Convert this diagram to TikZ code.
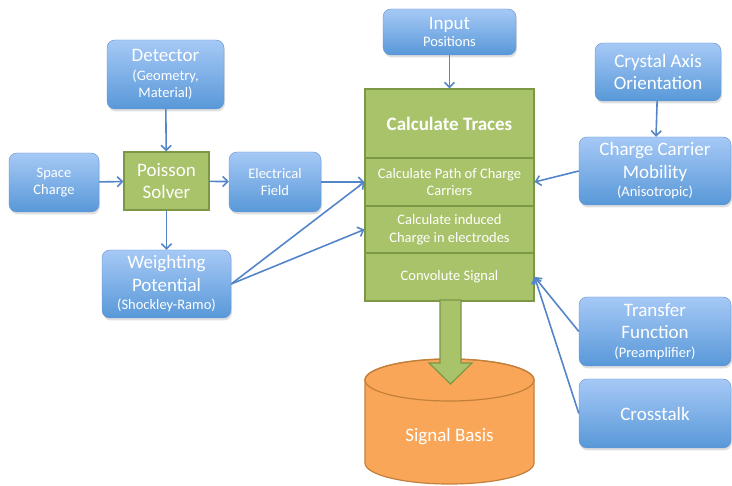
\documentclass[tikz,border=0pt]{standalone}
\usepackage{fontspec}
\setmainfont{Carlito}
\usetikzlibrary{arrows.meta, shadows}
\definecolor{bxtop}{RGB}{166, 201, 246}
\definecolor{bxbot}{RGB}{88, 152, 216}
\definecolor{bxline}{RGB}{98, 145, 210}
\definecolor{arline}{RGB}{84, 133, 200}
\definecolor{grfill}{RGB}{169, 195, 107}
\definecolor{grline}{RGB}{124, 151, 70}
\definecolor{orfill}{RGB}{249, 166, 88}
\definecolor{orline}{RGB}{196, 128, 58}
\newcommand{\bigf}{\fontsize{19}{22}\selectfont}
\newcommand{\smallf}{\fontsize{14.5}{17.5}\selectfont}

\tikzset{
  bluebox/.style={draw=bxline, rounded corners=8pt, top color=bxtop, bottom color=bxbot,
    text=white, align=center, inner sep=2pt, font=\smallf,
    drop shadow={opacity=0.25, shadow xshift=1pt, shadow yshift=-2.5pt}},
  greenbox/.style={draw=grline, line width=1.2pt, fill=grfill, text=white, align=center,
    inner sep=2pt, font=\smallf},
  flow/.style={arline, line width=1.6pt, -{Straight Barb[length=5pt, width=10pt]}}
}

\begin{document}
\begin{tikzpicture}[x=1pt, y=1pt]
  \useasboundingbox (0,0) rectangle (732,-486);

  % Inputs on the left
  \node[bluebox, minimum width=117pt, minimum height=69pt] (det) at (165.5,-74.5)
    {{\bigf Detector}\\[1pt](Geometry,\\Material)};
  \node[bluebox, minimum width=90pt, minimum height=59pt] (spc) at (54,-182.5)
    {Space\\Charge};
  \node[greenbox, minimum width=85pt, minimum height=58pt, font=\bigf] (poi) at (166.5,-181)
    {Poisson\\Solver};
  \node[bluebox, minimum width=92pt, minimum height=60pt] (efd) at (275,-182)
    {Electrical\\Field};
  \node[bluebox, minimum width=129pt, minimum height=68pt] (wgt) at (166.5,-284)
    {{\bigf Weighting}\\[5pt]{\bigf Potential}\\[1pt](Shockley-Ramo)};

  % Calculate traces block
  \node[bluebox, minimum width=133pt, minimum height=46pt] (inp) at (449.5,-32)
    {{\bigf Input}\\Positions};
  \node[greenbox, minimum width=169pt, minimum height=69pt, font=\bigf\bfseries] (ttl) at (449.5,-123.5)
    {Calculate Traces};
  \node[greenbox, minimum width=169pt, minimum height=48pt] (pth) at (449.5,-182)
    {Calculate Path of Charge\\Carriers};
  \node[greenbox, minimum width=169pt, minimum height=47pt] (ind) at (449.5,-229.5)
    {Calculate induced\\Charge in electrodes};
  \node[greenbox, minimum width=169pt, minimum height=48pt] (cnv) at (449.5,-277)
    {Convolute Signal};

  % Inputs on the right
  \node[bluebox, minimum width=126pt, minimum height=58pt, font=\bigf] (cax) at (658,-72)
    {Crystal Axis\\Orientation};
  \node[bluebox, minimum width=152pt, minimum height=68pt] (ccm) at (655,-171)
    {{\bigf Charge Carrier}\\[5pt]{\bigf Mobility}\\[1pt](Anisotropic)};
  \node[bluebox, minimum width=152pt, minimum height=69pt] (tfn) at (655,-331.5)
    {{\bigf Transfer}\\[5pt]{\bigf Function}\\[1pt](Preamplifier)};
  \node[bluebox, minimum width=152pt, minimum height=69pt, font=\bigf] (xtk) at (655,-413.5)
    {Crosstalk};

  % Signal basis cylinder
  \filldraw[fill=orfill, draw=orline, line width=1.2pt]
    (365,-380) -- (365,-463) arc[start angle=180, end angle=360, x radius=84.5, y radius=21]
    -- (534,-380) arc[start angle=0, end angle=180, x radius=84.5, y radius=21] -- cycle;
  \draw[orline, line width=1.2pt] (449.5,-380) ellipse[x radius=84.5, y radius=21];
  \node[text=white, font=\bigf] (sgb) at (449.5,-437) {Signal Basis};

  % Big arrow into the signal basis
  \filldraw[fill=grfill, draw=grline, line width=1.2pt]
    (440,-300) -- (461,-300) -- (461,-363) -- (472,-363) -- (450.5,-384)
    -- (429,-363) -- (440,-363) -- cycle;

  % Connectors
  \draw[flow] (det) -- (poi);
  \draw[flow] (spc) -- (poi);
  \draw[flow] (poi) -- (efd);
  \draw[flow] (poi) -- (wgt);
  \draw[flow] (efd.east) -- (pth.west);
  \draw[flow] (wgt.east) -- (pth.west);
  \draw[flow] (wgt.east) -- (ind.west);
  \draw[flow] (inp) -- (ttl);
  \draw[flow] (cax) -- (ccm);
  \draw[flow] (ccm.west) -- (pth.east);
  \draw[flow] (tfn.west) -- (cnv.east);
  \draw[flow] (xtk.west) -- (cnv.east);
\end{tikzpicture}
\end{document}
